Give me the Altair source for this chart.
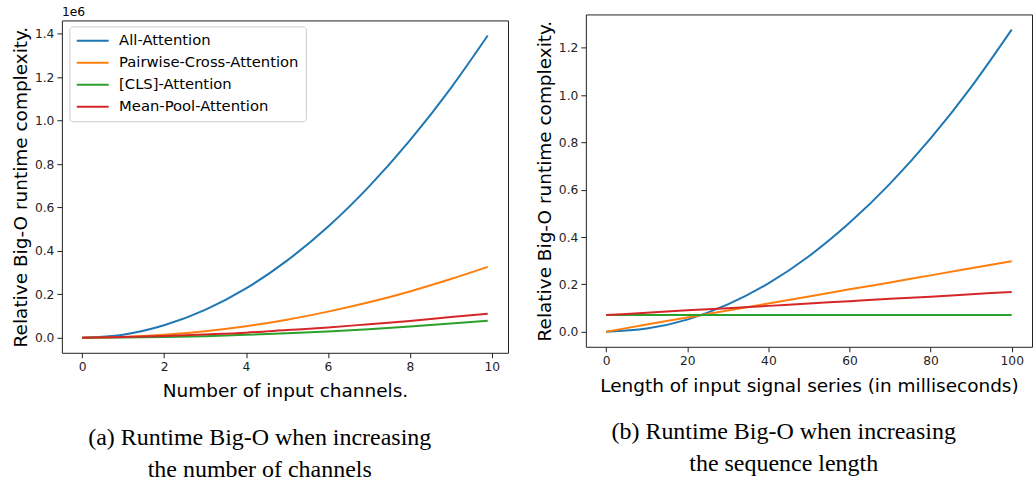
import altair as alt
import pandas as pd

SERIES = ["All-Attention", "Pairwise-Cross-Attention", "[CLS]-Attention", "Mean-Pool-Attention"]
COLORS = ["#1f77b4", "#ff7f0e", "#2ca02c", "#d62728"]

# Panel (a): number of input channels (values in units of 1e6)
ch_x = [0, 1, 2, 3, 4, 5, 6, 7, 8, 9, 9.9]
ch_all = [0.0, 0.014, 0.057, 0.128, 0.227, 0.355, 0.511, 0.696, 0.909, 1.150, 1.392]
ch_pair = [0.0, 0.003, 0.013, 0.030, 0.053, 0.083, 0.120, 0.163, 0.213, 0.270, 0.326]
ch_cls = [0.0, 0.001, 0.003, 0.007, 0.013, 0.020, 0.029, 0.039, 0.051, 0.065, 0.078]
ch_mean = [0.0, 0.003, 0.008, 0.015, 0.023, 0.035, 0.047, 0.062, 0.077, 0.095, 0.110]

# Panel (b): sequence length in milliseconds
len_x = [0, 10, 20, 30, 40, 50, 60, 70, 80, 90, 100]
len_all = [0.0, 0.013, 0.051, 0.115, 0.204, 0.319, 0.460, 0.626, 0.817, 1.034, 1.277]
len_pair = [0.0, 0.030, 0.060, 0.089, 0.119, 0.149, 0.179, 0.208, 0.238, 0.268, 0.298]
len_cls = [0.070, 0.070, 0.070, 0.070, 0.070, 0.070, 0.070, 0.070, 0.070, 0.070, 0.070]
len_mean = [0.070, 0.080, 0.090, 0.099, 0.109, 0.119, 0.129, 0.139, 0.148, 0.158, 0.168]

CAPTION_A = ["(a) Runtime Big-O when increasing", "the number of channels"]
CAPTION_B = ["(b) Runtime Big-O when increasing", "the sequence length"]
Y_TITLE = "Relative Big-O runtime complexity."
OFFSET_TEXT = ["1e6"]

STRIP_H = 4


def to_long(xs, cols):
    rows = []
    for name, vals in zip(SERIES, cols):
        for i, (x, v) in enumerate(zip(xs, vals)):
            rows.append({"x": x, "y": v, "series": name, "i": i})
    return pd.DataFrame(rows)


df_a = to_long(ch_x, [ch_all, ch_pair, ch_cls, ch_mean])
df_b = to_long(len_x, [len_all, len_pair, len_cls, len_mean])

FONT = "DejaVu Sans"


def panel(df, xdom, ydom, xticks, yticks, xtitle, caption, legend_y):
    legend = alt.Legend(
        title=None,
        orient="none",
        legendX=7.5,
        legendY=legend_y,
        symbolType="M-1.4,0H5",
        symbolSize=100,
        symbolStrokeWidth=2,
        labelFont=FONT,
        labelFontSize=14.8,
        labelColor="black",
        labelOffset=28,
        labelLimit=0,
        rowPadding=6,
        padding=7,
        fillColor="white",
        strokeColor="#cccccc",
        cornerRadius=3,
    )
    return alt.Chart(df).mark_line(strokeWidth=2, interpolate="monotone").encode(
        x=alt.X(
            "x:Q",
            scale=alt.Scale(domain=xdom, nice=False, zero=False),
            axis=alt.Axis(values=xticks, format="d", title=xtitle),
        ),
        y=alt.Y(
            "y:Q",
            scale=alt.Scale(domain=ydom, nice=False, zero=False),
            axis=alt.Axis(values=yticks, format=".1f", title=Y_TITLE),
        ),
        color=alt.Color(
            "series:N",
            scale=alt.Scale(domain=SERIES, range=COLORS),
            sort=SERIES,
            legend=legend,
        ),
        order="i:Q",
    ).properties(
        width=447,
        height=333,
        title=alt.TitleParams(
            text=caption,
            orient="bottom",
            anchor="middle",
            frame="bounds",
            font="Liberation Serif",
            fontSize=24,
            fontWeight="normal",
            color="black",
            lineHeight=32,
            offset=26,
        ),
    )


left_plot = panel(df_a, [-0.495, 10.395], [-0.0696, 1.4616], [0, 2, 4, 6, 8, 10],
                  [0.0, 0.2, 0.4, 0.6, 0.8, 1.0, 1.2, 1.4], "Number of input channels.",
                  CAPTION_A, 8 + STRIP_H)
right_plot = panel(df_b, [-5, 105], [-0.064, 1.341], [0, 20, 40, 60, 80, 100],
                   [0.0, 0.2, 0.4, 0.6, 0.8, 1.0, 1.2],
                   "Length of input signal series (in milliseconds)",
                   CAPTION_B, 8)

# strip above panel (a) carrying the axis offset text "1e6"
offset_strip = alt.Chart(pd.DataFrame({"t": OFFSET_TEXT})).mark_text(
    font=FONT, fontSize=12.3, align="left", baseline="middle", color="black",
).encode(text="t:N", x=alt.value(0), y=alt.value(-2)).properties(
    width=447, height=STRIP_H, view=alt.ViewBackground(stroke="transparent")
)

left = alt.vconcat(offset_strip, left_plot, spacing=0)

chart = alt.concat(left, right_plot, columns=2, spacing=25).properties(
    padding={"left": 10, "top": 5, "right": 0, "bottom": 0},
    background="white",
).configure_view(
    stroke="#222222", strokeWidth=1
).configure_axis(
    grid=False,
    domain=False,
    ticks=True,
    tickSize=5,
    tickWidth=1,
    tickColor="#222222",
    labelFont=FONT,
    labelFontSize=12.3,
    labelColor="#222222",
    labelPadding=3,
    titleFont=FONT,
    titleFontSize=18.5,
    titleFontWeight="normal",
    titleColor="black",
).configure_axisY(titlePadding=4).configure_axisX(titlePadding=9)

chart.save("out.html", embed_options={"renderer": "svg", "actions": False})
